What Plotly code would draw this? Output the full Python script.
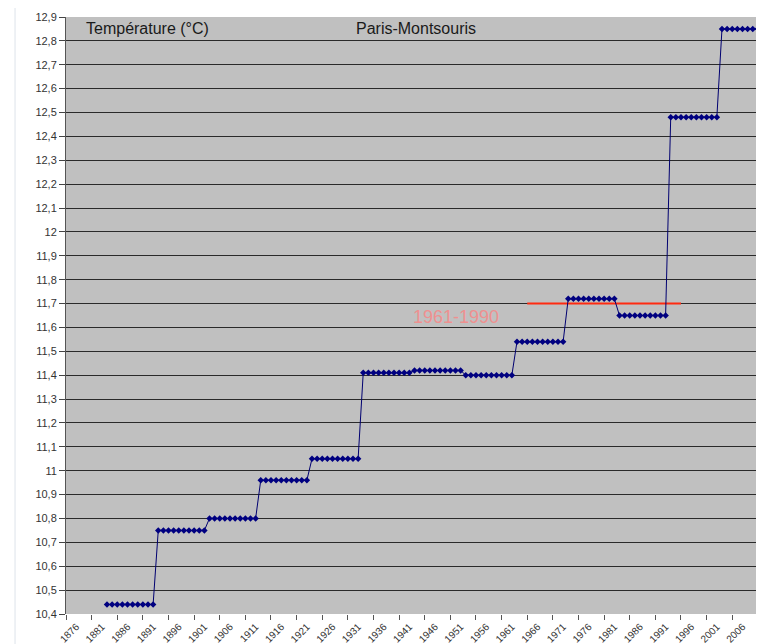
import plotly.graph_objects as go

# Decadal mean temperatures at Paris-Montsouris (°C), one plateau per decade
decade_starts = [1881, 1891, 1901, 1911, 1921, 1931, 1941, 1951, 1961, 1971, 1981, 1991, 2001]
decade_means = [10.44, 10.75, 10.80, 10.96, 11.05, 11.41, 11.42, 11.40, 11.54, 11.72, 11.65, 12.48, 12.85]

# Reference period line (1961-1990 normal)
normal_years = [1963, 1993]
normal_value = [11.70, 11.70]

# Axis tick labels
x_tick_years = list(range(1876, 2007, 5))
y_tick_vals = [10.4, 10.5, 10.6, 10.7, 10.8, 10.9, 11.0, 11.1, 11.2, 11.3, 11.4, 11.5, 11.6,
               11.7, 11.8, 11.9, 12.0, 12.1, 12.2, 12.3, 12.4, 12.5, 12.6, 12.7, 12.8, 12.9]
y_tick_text = ["10,4", "10,5", "10,6", "10,7", "10,8", "10,9", "11", "11,1", "11,2", "11,3",
               "11,4", "11,5", "11,6", "11,7", "11,8", "11,9", "12", "12,1", "12,2", "12,3",
               "12,4", "12,5", "12,6", "12,7", "12,8", "12,9"]

# Each decade mean is shown once per year of its decade
years = []
temps = []
for start, mean in zip(decade_starts, decade_means):
    for k in range(10):
        years.append(start + k)
        temps.append(mean)

fig = go.Figure()

fig.add_trace(go.Scatter(
    x=normal_years, y=normal_value, mode="lines",
    line=dict(color="#ff2a10", width=2), hoverinfo="skip", showlegend=False,
))

fig.add_trace(go.Scatter(
    x=years, y=temps, mode="lines+markers",
    line=dict(color="#000070", width=1),
    marker=dict(symbol="diamond", size=5, color="#000080"),
    showlegend=False,
))

font_family = "Liberation Sans, Arial, sans-serif"

fig.add_annotation(x=1876.6, y=12.85, text="Température (°C)", showarrow=False,
                   xanchor="left", yanchor="middle",
                   font=dict(family=font_family, size=16, color="#1a1a1a"))
fig.add_annotation(x=1929.2, y=12.85, text="Paris-Montsouris", showarrow=False,
                   xanchor="left", yanchor="middle",
                   font=dict(family=font_family, size=16, color="#1a1a1a"))
fig.add_annotation(x=1940.4, y=11.645, text="1961-1990", showarrow=False,
                   xanchor="left", yanchor="middle",
                   font=dict(family=font_family, size=18, color="#ef9090"))

# faint chart-area border on the left
fig.add_shape(type="line", xref="paper", yref="paper", x0=-0.073, x1=-0.073, y0=-0.06, y1=1.02,
              line=dict(color="#dde3ea", width=1), layer="below")

# The page adds an 8px body margin, so the figure is sized 8px smaller
fig.update_layout(
    width=756, height=636,
    margin=dict(l=58, r=0, t=9, b=30),
    paper_bgcolor="white",
    plot_bgcolor="#c0c0c0",
    font=dict(family=font_family, color="#333333"),
    xaxis=dict(
        range=[1873, 2009.2], automargin=False,
        tickmode="array", tickvals=x_tick_years,
        ticktext=[str(y) for y in x_tick_years],
        tickangle=-45, ticks="", showgrid=False, zeroline=False,
        showline=False, ticklabelstandoff=4, ticklabelshift=-5,
        tickfont=dict(size=10, color="#333333"),
        minor=dict(tickmode="array", tickvals=list(range(1873, 2010, 5)),
                   ticks="outside", ticklen=5, tickcolor="#555555", showgrid=False),
    ),
    yaxis=dict(
        range=[10.4, 12.9], automargin=False,
        tickmode="array", tickvals=y_tick_vals, ticktext=y_tick_text,
        ticks="outside", ticklen=6, tickcolor="#444444",
        showgrid=True, gridcolor="#2a2a2a", gridwidth=1.2,
        zeroline=False, showline=True, linecolor="#555555", linewidth=1,
        tickfont=dict(size=11, color="#333333"),
    ),
)

fig.write_html("out.html")
